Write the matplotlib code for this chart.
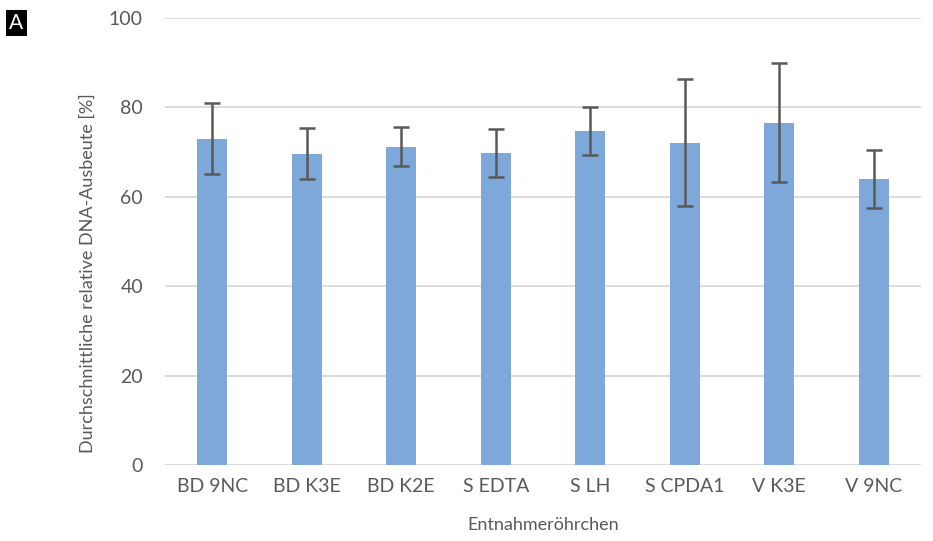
import numpy as np
import matplotlib.pyplot as plt

plt.rcParams['font.family'] = ['Lato', 'DejaVu Sans']

tubes = ['BD 9NC', 'BD K3E', 'BD K2E', 'S EDTA', 'S LH', 'S CPDA1', 'V K3E', 'V 9NC']
yield_mean = [73.0, 69.6, 71.2, 69.8, 74.7, 72.1, 76.6, 64.0]
yield_sd = [8.0, 5.7, 4.4, 5.3, 5.4, 14.2, 13.3, 6.5]

grey = '#595959'

fig = plt.figure(figsize=(9.33, 5.41), dpi=100)
ax = fig.add_axes([0.177, 0.14, 0.81, 0.827])

x = np.arange(len(tubes))
ax.bar(x, yield_mean, width=0.32, color='#7ea8d9', zorder=2)
ax.errorbar(x, yield_mean, yerr=yield_sd, fmt='none', ecolor=grey,
            elinewidth=1.8, capsize=6, capthick=1.8, zorder=3)

ax.set_ylim(0, 100)
ax.set_xlim(-0.5, len(tubes) - 0.5)
ax.set_yticks(range(0, 101, 20))
ax.set_xticks(x)
ax.set_xticklabels(tubes)
ax.grid(axis='y', color='#d9d9d9', linewidth=1.3, zorder=0)
ax.set_axisbelow(True)
for s in ['top', 'right', 'left', 'bottom']:
    ax.spines[s].set_visible(False)
ax.tick_params(length=0, labelsize=14, colors=grey, pad=9)
ax.tick_params(axis='y', pad=16)

ax.set_xlabel('Entnahmeröhrchen', fontsize=13, color=grey, labelpad=16)
ax.set_ylabel('Durchschnittliche relative DNA-Ausbeute [%]', fontsize=13, color=grey)
ax.yaxis.set_label_coords(-0.092, 0.43)

fig.text(0.0175, 0.957, 'A', fontsize=15, color='white', va='center', ha='center',
         bbox=dict(boxstyle='square,pad=0.15', facecolor='black', edgecolor='none'))

fig.savefig('out.png', dpi=100)
